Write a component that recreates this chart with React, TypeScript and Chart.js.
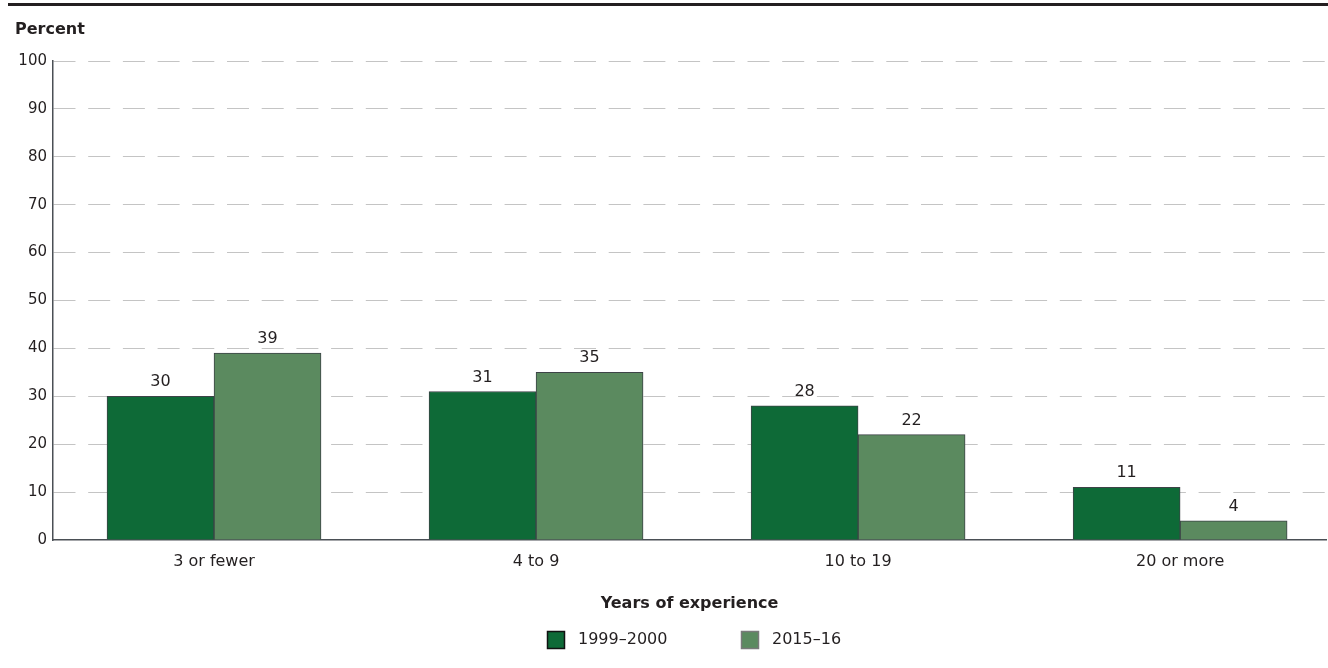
import React, { useEffect, useRef } from "react";
import { Chart, registerables } from "chart.js";

Chart.register(...registerables);

const categories = ["3 or fewer", "4 to 9", "10 to 19", "20 or more"];
const seriesLabels = ["1999–2000", "2015–16"];
const values1999 = [30, 31, 28, 11];
const values2015 = [39, 35, 22, 4];
const yTicks = [0, 10, 20, 30, 40, 50, 60, 70, 80, 90, 100];

const FONT = "'DejaVu Sans', sans-serif";
const TEXT = "#231f20";
const DARK = "#0e6a37";
const LIGHT = "#5b8a5f";
const BORDER = "#3d4347";

const decorPlugin = {
  id: "decor",
  afterDraw(chart: any) {
    const ctx = chart.ctx;
    const w = chart.width || 1320;
    ctx.save();
    // top rule
    ctx.fillStyle = "#231f20";
    ctx.fillRect(0, 3, w, 3);
    // y title
    ctx.font = `bold 16px ${FONT}`;
    ctx.fillStyle = TEXT;
    ctx.textAlign = "left";
    ctx.textBaseline = "middle";
    ctx.fillText("Percent", 7, 30);

    // value labels
    ctx.font = `16px ${FONT}`;
    ctx.textAlign = "center";
    ctx.textBaseline = "alphabetic";
    chart.data.datasets.forEach((ds: any, di: number) => {
      const meta = chart.getDatasetMeta(di);
      meta.data.forEach((bar: any, i: number) => {
        ctx.fillText(String(ds.data[i].y), bar.x, bar.y - 10);
      });
    });

    // legend
    const items = [
      { boxX: 539, textX: 570, stroke: "#111111" },
      { boxX: 733, textX: 764, stroke: "#7a7a7a" },
    ];
    const cy = 640;
    chart.data.datasets.forEach((ds: any, di: number) => {
      const it = items[di];
      ctx.fillStyle = ds.backgroundColor;
      ctx.fillRect(it.boxX, cy - 9, 18, 18);
      ctx.strokeStyle = it.stroke;
      ctx.lineWidth = 1.5;
      ctx.strokeRect(it.boxX + 0.5, cy - 8.5, 17, 17);
      ctx.fillStyle = TEXT;
      ctx.textAlign = "left";
      ctx.textBaseline = "middle";
      ctx.font = `16px ${FONT}`;
      ctx.fillText(ds.label, it.textX, cy);
    });
    ctx.restore();
  },
};

export default function App() {
  const ref = useRef<HTMLCanvasElement | null>(null);

  useEffect(() => {
    if (!ref.current) return;
    const chart = new Chart(ref.current, {
      type: "bar",
      data: {
        datasets: [
          {
            label: seriesLabels[0],
            data: values1999.map((v, i) => ({ x: i, y: v })),
            backgroundColor: DARK,
            borderColor: BORDER,
            borderWidth: 1,
            barThickness: 107,
          },
          {
            label: seriesLabels[1],
            data: values2015.map((v, i) => ({ x: i, y: v })),
            backgroundColor: LIGHT,
            borderColor: BORDER,
            borderWidth: 1,
            barThickness: 107,
          },
        ],
      },
      options: {
        animation: false,
        responsive: true,
        maintainAspectRatio: false,
        layout: { padding: { left: 0, right: 2, top: 61, bottom: 50.6 } },
        plugins: {
          legend: { display: false },
          tooltip: { enabled: false },
        },
        scales: {
          x: {
            type: "linear",
            min: -0.5,
            max: 3.453,
            offset: false,
            grid: { display: false, drawTicks: false },
            border: { display: true, color: "#4a4f55", width: 1.5 },
            afterBuildTicks: (scale: any) => {
              scale.ticks = categories.map((_, i) => ({ value: i }));
            },
            ticks: {
              padding: 12,
              color: TEXT,
              font: { family: FONT, size: 16 },
              autoSkip: false,
              maxRotation: 0,
              callback: (v: any) => categories[v as number] ?? "",
            },
            title: {
              display: true,
              text: "Years of experience",
              color: TEXT,
              font: { family: FONT, size: 16, weight: "bold" },
              padding: { top: 11, bottom: 4 },
            },
          },
          y: {
            min: 0,
            max: 100,
            afterFit: (scale: any) => {
              scale.width = 45;
            },
            afterBuildTicks: (scale: any) => {
              scale.ticks = yTicks.map((v) => ({ value: v }));
            },
            grid: {
              drawTicks: false,
              color: (c: any) => (c.tick && c.tick.value === 0 ? "rgba(0,0,0,0)" : "#c4c4c4"),
              lineWidth: 1,
            },
            border: { display: true, color: "#4a4f55", width: 1.5, dash: [22, 12.7], dashOffset: 0 },
            ticks: {
              padding: 6,
              color: TEXT,
              font: { family: FONT, size: 15 },
            },
          },
        },
      },
      plugins: [decorPlugin],
    } as any);
    return () => chart.destroy();
  }, []);

  return (
    <div style={{ position: "fixed", top: 0, left: 8, width: 1320, height: 668 }}>
      <canvas ref={ref} />
    </div>
  );
}
